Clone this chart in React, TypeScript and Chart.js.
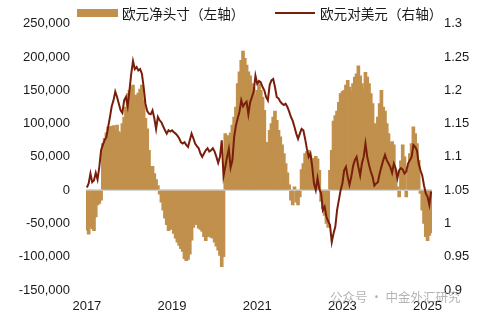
import React, { useEffect, useRef } from 'react';
import { Chart, registerables } from 'chart.js';

Chart.register(...registerables);

// Semi-monthly observations, Jan 2017 (first half) .. Feb 2025 (first half)
const YEARS = [2017, 2018, 2019, 2020, 2021, 2022, 2023, 2024, 2025];
const HALVES = ['a', 'b'];
const TICK_YEARS = ['2017', '2019', '2021', '2023', '2025'];

const SERIES_BAR = '欧元净头寸（左轴）';
const SERIES_LINE = '欧元对美元（右轴）';

// EUR net speculative position (contracts), left axis
const netPosition = [
  -60000, -66000, -55000, -58000, -61000, -40000, -22000, -20000, -15000, 70000, 78000, 86000,
  95000, 92000, 96000, 97000, 90000, 98000, 88000, 85000, 100000, 110000, 125000, 145000,
  150000, 155000, 158000, 142000, 143000, 146000, 152000, 158000, 135000, 108000, 92000, 60000,
  36000, 36000, 25000, 16000, 7000, -6000, -18000, -30000, -42000, -52000, -61000, -59000,
  -58000, -65000, -72000, -78000, -83000, -88000, -92000, -103000, -106000, -104000, -96000, -75000,
  -56000, -50000, -52000, -57000, -59000, -62000, -70000, -76000, -70000, -68000, -71000, -72000,
  -78000, -84000, -90000, -98000, -115000, -100000, 85000, 80000, 82000, 86000, 98000, 110000,
  125000, 160000, 178000, 195000, 209000, 198000, 188000, 178000, 172000, 160000, 154000, 143000,
  150000, 160000, 150000, 140000, 120000, 60000, 72000, 90000, 100000, 110000, 119000, 105000,
  90000, 80000, 68000, 55000, 40000, 26000, 8000, -15000, -22000, 5000, -18000, -22000,
  -10000, 31000, 40000, 55000, 58000, 60000, 52000, 46000, 48000, 51000, 47000, 30000,
  -17000, -28000, -38000, -50000, -56000, 30000, 60000, 104000, 112000, 119000, 132000, 145000,
  148000, 150000, 158000, 165000, 155000, 148000, 160000, 170000, 175000, 187000, 172000, 160000,
  152000, 177000, 170000, 160000, 145000, 130000, 100000, 90000, 110000, 130000, 150000, 125000,
  119000, 100000, 85000, 70000, 73000, 68000, 30000, 5000, -10000, 44000, 68000, 50000,
  -10000, 30000, 55000, 70000, 95000, 85000, 70000, 45000, -5000, -30000, -50000, -70000,
  -76000, -68000, -64000,
];

// EUR/USD, right axis
const eurUsd = [
  1.054, 1.06, 1.075, 1.062, 1.065, 1.076, 1.066, 1.085, 1.11, 1.118, 1.125, 1.13,
  1.145, 1.16, 1.176, 1.185, 1.198, 1.19, 1.18, 1.17, 1.166, 1.185, 1.19, 1.176,
  1.2, 1.225, 1.244, 1.232, 1.235, 1.23, 1.232, 1.225, 1.205, 1.18, 1.169, 1.165,
  1.164, 1.17, 1.158, 1.142, 1.16, 1.155, 1.152, 1.146, 1.14, 1.135, 1.14, 1.138,
  1.14, 1.137, 1.135, 1.132, 1.128, 1.122, 1.12, 1.122, 1.118, 1.115, 1.125, 1.135,
  1.128, 1.12, 1.116, 1.113, 1.105, 1.1, 1.105, 1.11, 1.113, 1.108, 1.11, 1.113,
  1.108, 1.1, 1.091, 1.1, 1.125, 1.071, 1.085, 1.1, 1.112, 1.084, 1.095, 1.13,
  1.147, 1.158, 1.168, 1.185, 1.176, 1.18, 1.183, 1.164, 1.182, 1.19, 1.198, 1.222,
  1.21, 1.214, 1.212, 1.205, 1.2, 1.19, 1.185, 1.208, 1.215, 1.217, 1.205, 1.19,
  1.188, 1.183, 1.18, 1.178, 1.18, 1.175, 1.168, 1.16, 1.154, 1.145, 1.135, 1.127,
  1.135, 1.142, 1.14, 1.127, 1.112, 1.1, 1.105, 1.085, 1.06, 1.05, 1.068, 1.052,
  1.045, 1.02, 1.025, 1.01, 1.003, 0.998, 0.972, 0.985, 0.995, 1.02, 1.035, 1.05,
  1.06, 1.08, 1.085, 1.07, 1.058, 1.07, 1.086, 1.095, 1.1, 1.085, 1.072, 1.09,
  1.1, 1.12, 1.1, 1.088, 1.078, 1.07, 1.057, 1.06, 1.062, 1.075, 1.085, 1.095,
  1.103, 1.095, 1.09, 1.085, 1.076, 1.09, 1.083, 1.068, 1.08, 1.083, 1.081, 1.075,
  1.078, 1.09, 1.095, 1.1, 1.118, 1.115, 1.11, 1.09, 1.08, 1.072, 1.057, 1.045,
  1.04, 1.028, 1.048,
];

const periods: string[] = [];
for (const y of YEARS) {
  for (let m = 1; m <= 12; m++) {
    for (const h of HALVES) {
      if (periods.length < netPosition.length) periods.push(`${y}-${String(m).padStart(2, '0')}${h}`);
    }
  }
}

const BAR_COLOR = '#C0904C';
const LINE_COLOR = '#7A1E0C';
const AXIS_FONT = { family: '"Liberation Sans", Arial, sans-serif', size: 13 };
const TEXT_COLOR = '#1a1a1a';
const CJK = '"Noto Sans CJK SC", "Noto Sans", sans-serif';

export default function App() {
  const ref = useRef<HTMLCanvasElement | null>(null);

  useEffect(() => {
    if (!ref.current) return;
    const chart = new Chart(ref.current, {
      data: {
        labels: periods,
        datasets: [
          {
            type: 'line',
            label: SERIES_LINE,
            data: eurUsd,
            yAxisID: 'yR',
            borderColor: LINE_COLOR,
            borderWidth: 2,
            pointRadius: 0,
            tension: 0,
            order: 0,
          },
          {
            type: 'bar',
            label: SERIES_BAR,
            data: netPosition,
            yAxisID: 'yL',
            backgroundColor: BAR_COLOR,
            borderWidth: 0,
            barThickness: 3,
            grouped: false,
            order: 1,
          },
        ],
      } as any,
      options: {
        responsive: false,
        animation: false,
        maintainAspectRatio: false,
        layout: { padding: { top: 16, left: 0, right: 0, bottom: 0 } },
        plugins: { legend: { display: false }, tooltip: { enabled: false } },
        scales: {
          x: {
            offset: true,
            grid: { display: false, drawTicks: false },
            border: { display: false },
            ticks: {
              autoSkip: false,
              maxRotation: 0,
              minRotation: 0,
              padding: 9,
              color: TEXT_COLOR,
              font: AXIS_FONT,
              callback: (_v: any, i: number) => {
                const lab = periods[i];
                if (!lab || !lab.endsWith('-01a')) return '';
                const yr = lab.slice(0, 4);
                return TICK_YEARS.includes(yr) ? yr : '';
              },
            },
            afterFit: (s: any) => { s.height = 29; },
          },
          yL: {
            position: 'left',
            min: -150000,
            max: 250000,
            ticks: {
              stepSize: 50000,
              padding: 16,
              color: TEXT_COLOR,
              font: AXIS_FONT,
              callback: (v: any) => Number(v).toLocaleString('en-US'),
            },
            grid: {
              drawTicks: false,
              lineWidth: 2,
              color: (c: any) => (c.tick && c.tick.value === 0 ? '#d6d6d6' : 'rgba(0,0,0,0)'),
            },
            border: { display: false },
            afterFit: (s: any) => { s.width = 86; },
          },
          yR: {
            position: 'right',
            min: 0.9,
            max: 1.3,
            ticks: {
              stepSize: 0.05,
              padding: 12,
              color: TEXT_COLOR,
              font: AXIS_FONT,
              callback: (v: any) => String(Number(Number(v).toFixed(2))),
            },
            grid: { display: false, drawTicks: false },
            border: { display: false },
            afterFit: (s: any) => { s.width = 53; },
          },
        },
      } as any,
    });
    return () => chart.destroy();
  }, []);

  return (
    <div style={{ position: 'fixed', left: 0, top: 0, width: 485, height: 319, background: '#fff' }}>
      <canvas ref={ref} width={485} height={319} style={{ position: 'absolute', left: 0, top: 0 }} />
      <div style={{ position: 'absolute', left: 77, top: 9, width: 41, height: 8, background: BAR_COLOR }} />
      <div style={{ position: 'absolute', left: 122, top: 3, fontFamily: CJK, fontSize: 13.6, lineHeight: '20px', color: TEXT_COLOR, whiteSpace: 'nowrap' }}>{SERIES_BAR}</div>
      <div style={{ position: 'absolute', left: 275, top: 12, width: 40, height: 2, background: LINE_COLOR }} />
      <div style={{ position: 'absolute', left: 320, top: 3, fontFamily: CJK, fontSize: 13.6, lineHeight: '20px', color: TEXT_COLOR, whiteSpace: 'nowrap' }}>{SERIES_LINE}</div>
      <div style={{ position: 'absolute', left: 330, top: 288, fontFamily: CJK, fontSize: 12.5, lineHeight: '18px', color: 'rgba(140,140,140,0.65)', whiteSpace: 'nowrap' }}>公众号 · 中金外汇研究</div>
    </div>
  );
}
